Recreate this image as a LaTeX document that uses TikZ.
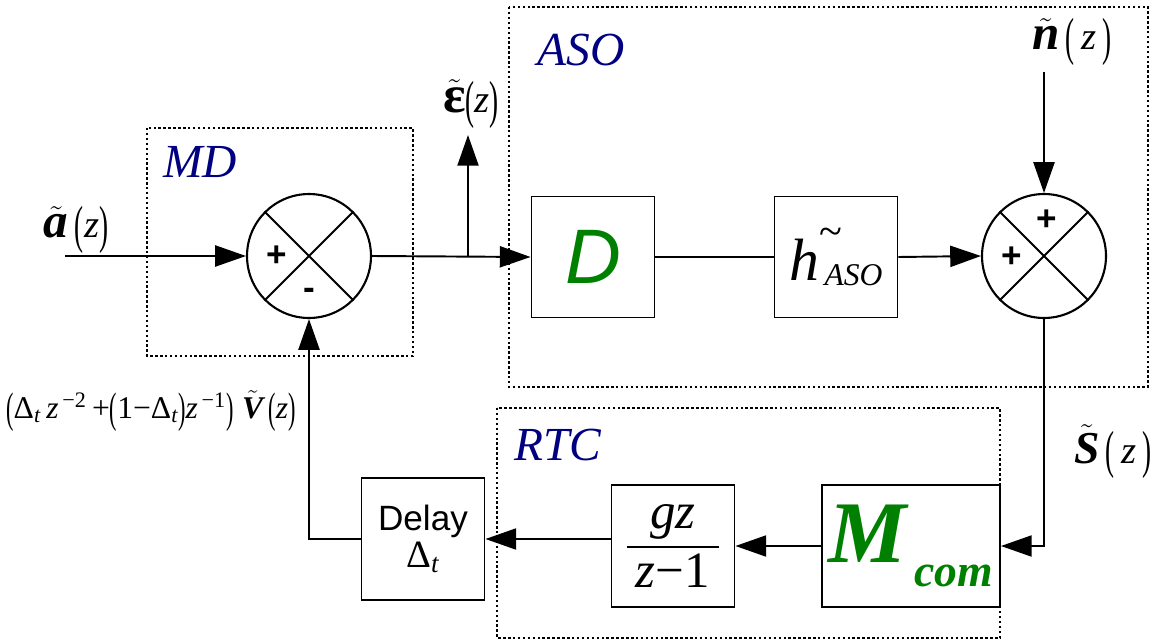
\documentclass[tikz,border=0pt]{standalone}
\usepackage{amsmath}
\usepackage{graphicx}
\usepackage{fontspec}
\setmainfont{Liberation Serif}
\setsansfont{Liberation Sans}
\newfontfamily\tms{Liberation Serif}
\newfontfamily\arl{Liberation Sans}
\usetikzlibrary{arrows.meta}
\definecolor{navy}{RGB}{0,0,128}
\definecolor{dgreen}{RGB}{0,128,0}
\newcommand\lpar{\raisebox{-0.12em}{\scalebox{0.7}[1.35]{(}}}
\newcommand\rpar{\raisebox{-0.12em}{\scalebox{0.7}[1.35]{)}}}
\newcommand\tl[1]{$\tilde{\text{#1}}$}
\begin{document}
\begin{tikzpicture}[x=0.02cm,y=-0.02cm,
  blk/.style={draw,line width=1.1pt,inner sep=0pt,minimum width=2.46cm,minimum height=2.42cm},
  sumj/.style={draw,circle,line width=1.2pt,inner sep=0pt,minimum size=2.48cm},
  ln/.style={line width=1.1pt},
  arr/.style={line width=1.1pt,-{Triangle[length=17.5pt,width=12pt]}},
  region/.style={line width=0.9pt,dash pattern=on 1.4pt off 1.4pt},
  reglab/.style={text=navy,font=\tms\fontsize{27}{30}\selectfont\itshape},
  sig/.style={font=\tms\fontsize{22}{26}\selectfont,inner sep=1pt},
  pm/.style={font=\arl\bfseries\fontsize{20}{22}\selectfont,inner sep=0pt}]
\useasboundingbox (0,0) rectangle (1166,642);

% regions
\draw[region] (147,128) rectangle (413,356);
\draw[region] (509,7) rectangle (1148,387);
\draw[region] (497,408) rectangle (1000,638);
\node[reglab] (mdl) at (200,162) {MD};
\node[reglab] (asol) at (581,50) {ASO};
\node[reglab] (rtcl) at (558,445) {RTC};

% blocks
\node[sumj] (s1) at (309,256) {};
\draw[ln] (s1.45) -- (s1.225) (s1.135) -- (s1.-45);
\node[pm] (s1p) at (277,256) {+};
\node[pm] (s1m) at (309,294) {-};

\node[blk] (D) at (593,257) {\arl\itshape\fontsize{44}{46}\selectfont\color{dgreen}D};
\node[blk] (h) at (836,257) {\tms{\fontsize{34}{36}\selectfont\itshape h}\rlap{\raisebox{20pt}{\fontsize{24}{26}\selectfont\textasciitilde}}\raisebox{-3pt}{\fontsize{18}{20}\selectfont\itshape\,ASO}};

\node[sumj] (s2) at (1044,256) {};
\draw[ln] (s2.45) -- (s2.225) (s2.135) -- (s2.-45);
\node[pm] (s2p) at (1047,220) {+};
\node[pm] (s2q) at (1012,257) {+};

\node[blk,minimum width=3.56cm,minimum height=2.44cm] (M) at (911,546)
  {\tms\color{dgreen}\bfseries\itshape{\fontsize{50}{52}\selectfont M}\raisebox{-14pt}{\fontsize{26}{28}\selectfont\,com}};
\node[blk,minimum height=2.44cm] (G) at (673,546)
  {\tms\fontsize{29}{32}\selectfont$\dfrac{\text{\tms\itshape gz}}{\text{\tms\,\itshape z\upshape −1\,}}$};
\node[blk,minimum height=2.44cm,align=center] (Del) at (423,539)
  {\arl\fontsize{20}{24}\selectfont Delay\\[1pt]{\fontsize{22}{24}\selectfont\tms Δ\textsubscript{\itshape t}}};

% signal labels
\coordinate (ain) at (65,256);
\coordinate (br) at (468,256);
\coordinate (eps) at (468,135);
\coordinate (nin) at (1044,72);
\node[sig] (al) at (76,230) {\tl{\tms\fontsize{28}{30}\selectfont\bfseries\itshape a}\,\lpar\textit{z}\rpar};
\node[sig] (el) at (471,104) {\tl{\tms\fontsize{30}{32}\selectfont\bfseries ε}\lpar\textit{z}\rpar};
\node[sig] (nl) at (1072,42) {\tl{\tms\fontsize{28}{30}\selectfont\bfseries\itshape n}\,\lpar\,\textit{z}\,\rpar};
\node[sig] (sl) at (1113,452) {\tl{\tms\fontsize{26}{30}\selectfont\bfseries\itshape S}\,\lpar\,\textit{z}\,\rpar};
\node[font=\tms\fontsize{18}{20}\selectfont] (fl) at (151,411)
  {\lpar Δ\textsubscript{\itshape t}\,\textit{z}\textsuperscript{\,−2}\,+\lpar 1−Δ\textsubscript{\itshape t}\rpar\textit{z}\textsuperscript{\,−1}\rpar\;\tl{\tms\bfseries\itshape V}\,\lpar\textit{z}\rpar};

% connectors
\draw[arr] (ain) -- (s1.west);
\draw[arr] (s1.east) -- (D.west);
\draw[arr] (br) -- (eps);
\draw[ln] (D.east) -- (h.west);
\draw[arr] (h.east) -- (s2.west);
\draw[arr] (nin) -- (s2.north);
\draw[arr] (s2.south) |- (M.east);
\draw[arr] (M.west) -- (G.east);
\draw[arr] (G.west |- Del.east) -- (Del.east);
\draw[arr] (Del.west) -| (s1.south);
\end{tikzpicture}
\end{document}
